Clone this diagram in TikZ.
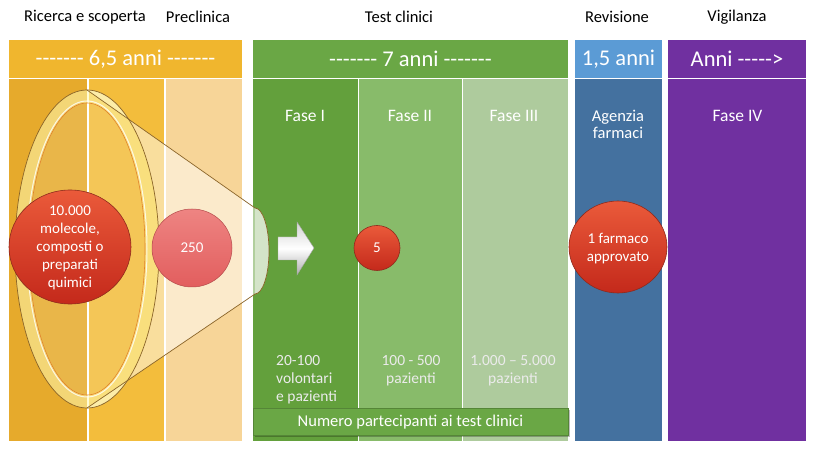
\documentclass[tikz,border=0pt]{standalone}
\usepackage{fontspec}
\setmainfont{Carlito}
\usetikzlibrary{shapes.geometric,shadings}
\definecolor{orH}{HTML}{F0B62E}
\definecolor{orA}{HTML}{E6AA2C}
\definecolor{orB}{HTML}{F3BD3C}
\definecolor{orC}{HTML}{F7D598}
\definecolor{grH}{HTML}{6AA745}
\definecolor{grA}{HTML}{63A03C}
\definecolor{grB}{HTML}{88BB6A}
\definecolor{grC}{HTML}{AECB9D}
\definecolor{blH}{HTML}{5B9BD5}
\definecolor{blA}{HTML}{44719F}
\definecolor{puH}{HTML}{7030A0}
\definecolor{redT}{HTML}{EA5A3A}
\definecolor{redB}{HTML}{C4291B}
\definecolor{redE}{HTML}{8E2A1C}
\definecolor{pinkT}{HTML}{EE8482}
\definecolor{pinkB}{HTML}{E25E5E}
\definecolor{coneE}{HTML}{8A6428}
\definecolor{rimI}{HTML}{E0802A}
\newcommand\hy{-\kern0pt}
\newcommand\hsev{\hy\hy\hy\hy\hy\hy\hy}
\begin{document}
\begin{tikzpicture}[x=1pt,y=-1pt,
  toplbl/.style={text=black,font=\fontsize{16.5}{18}\selectfont},
  hdrtxt/.style={text=white,font=\fontsize{22.5}{26}\selectfont},
  phasetxt/.style={text=white,font=\fontsize{17.5}{17}\selectfont,align=center},
  balltxt/.style={text=white,font=\fontsize{15}{18}\selectfont,align=center},
  counttxt/.style={text=white!92!black,font=\fontsize{15.5}{18}\selectfont},
  ballshade/.style={top color=redT,bottom color=redB,draw=redE,line width=0.6pt},
  pinkshade/.style={top color=pinkT,bottom color=pinkB,draw=pinkB!80!black,line width=0.5pt}]
\useasboundingbox (0,0) rectangle (815,454);
\fill[white] (0,0) rectangle (815,454);
% top labels
\node[toplbl] (l1) at (85,17) {Ricerca e scoperta};
\node[toplbl] (l2) at (198,17) {Preclinica};
\node[toplbl] (l3) at (399,17) {Test clinici};
\node[toplbl] (l4) at (617,17) {Revisione};
\node[toplbl] (l5) at (737,17) {Vigilanza};
% headers
\fill[orH] (9,40) rectangle (242,78);
\fill[grH] (253,40) rectangle (568,78);
\fill[blH] (575,40) rectangle (662,78);
\fill[puH] (668,40) rectangle (806,78);
\node[hdrtxt] (h1) at (125.5,59) {\hsev{} 6,5 anni \hsev};
\node[hdrtxt] (h2) at (410.5,59) {\hsev{} 7 anni \hsev};
\node[hdrtxt] (h3) at (618.5,59) {1,5 anni};
\node[hdrtxt] (h4) at (737,59) {Anni \hy\hy\hy\hy\hy>};
% columns
\fill[orA] (9,79.5) rectangle (87,441);
\fill[orB] (88.5,79.5) rectangle (164,441);
\fill[orC] (165.5,79.5) rectangle (242,441);
\fill[grA] (253,79.5) rectangle (357.5,441);
\fill[grB] (359,79.5) rectangle (461.5,441);
\fill[grC] (463,79.5) rectangle (568,441);
\fill[blA] (575,79.5) rectangle (662,441);
\fill[puH] (668,79.5) rectangle (806,441);
% funnel body
\fill[white,fill opacity=0.5] (87,90) -- (255,208)
  arc[start angle=-90,end angle=90,x radius=14,y radius=43]
  -- (87,408) arc[start angle=90,end angle=-90,x radius=72,y radius=159] -- cycle;
\fill[white,fill opacity=0.14] (87,249) ellipse[x radius=58,y radius=146];
\fill[white,fill opacity=0.45] (255,208)
  arc[start angle=-90,end angle=90,x radius=14,y radius=43] -- cycle;
% rim
\fill[even odd rule,fill=yellow!30!white,fill opacity=0.55]
  (87,249) ellipse[x radius=72,y radius=159]
  (87,249) ellipse[x radius=58,y radius=146];
\draw[white,line width=1pt,opacity=0.8] (87,249) ellipse[x radius=60,y radius=148];
\draw[rimI,line width=0.6pt] (87,249) ellipse[x radius=58,y radius=146];
\draw[coneE,line width=0.7pt] (87,249) ellipse[x radius=72,y radius=159];
\draw[coneE,line width=0.7pt] (87,90) -- (255,208)
  arc[start angle=-90,end angle=90,x radius=14,y radius=43] -- (87,408);
% balls
\path[ballshade] (70,247) ellipse[x radius=61,y radius=57];
\node[balltxt] (b1) at (70,248) {10.000\\molecole,\\composti o\\preparati\\quimici};
\path[pinkshade] (192,248) ellipse[x radius=40,y radius=39];
\node[balltxt] (b2) at (192,248) {250};
\path[ballshade] (377,248) ellipse[x radius=23,y radius=22.5];
\node[balltxt] (b3) at (377,248) {5};
\path[ballshade] (618,247) ellipse[x radius=49,y radius=46];
\node[balltxt] (b4) at (618,249) {1 farmaco\\approvato};
% arrow
\path[top color=gray!35,bottom color=gray!65,middle color=white,draw=gray!70,line width=0.4pt]
  (278,237) -- (297,237) -- (297,222) -- (314,248) -- (297,275) -- (297,260) -- (278,260) -- cycle;
% phase labels
\node[phasetxt] (f1) at (305,116) {Fase I};
\node[phasetxt] (f2) at (410,116) {Fase II};
\node[phasetxt] (f3) at (514,116) {Fase III};
\node[phasetxt,font=\fontsize{16.5}{17}\selectfont] (f4) at (618,124.5) {Agenzia\\farmaci};
\node[phasetxt] (f5) at (737.5,116) {Fase IV};
% counts
\node[counttxt,align=left,anchor=north west,inner sep=0] (c1) at (276,355) {20-100\\volontari\\e pazienti};
\node[counttxt,align=center,anchor=north,inner sep=0] (c2) at (411,355) {100 - 500\\pazienti};
\node[counttxt,align=center,anchor=north,inner sep=0] (c3) at (513,355) {1.000 – 5.000\\pazienti};
% participants bar
\fill[black,opacity=0.25] (255,410) rectangle (570,437);
\fill[grH,draw=grH!80!black,line width=0.5pt] (253,408) rectangle (568,435);
\node[text=white,font=\fontsize{16.5}{18}\selectfont] (np) at (410.5,422) {Numero partecipanti ai test clinici};
\end{tikzpicture}
\end{document}
